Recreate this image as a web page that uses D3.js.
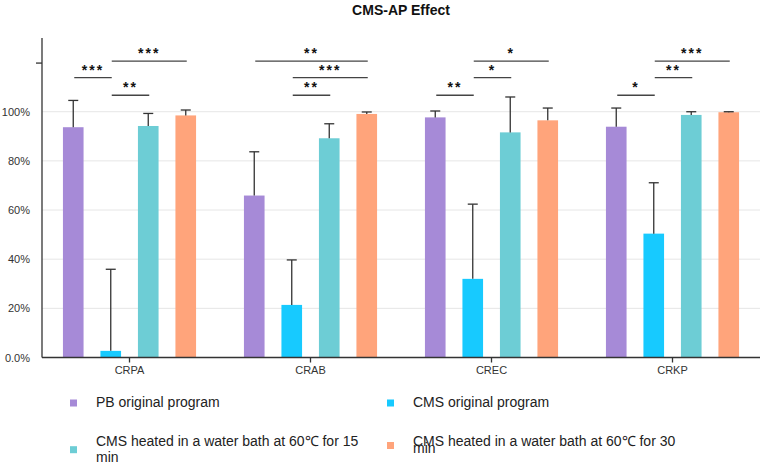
<!DOCTYPE html>
<html>
<head>
<meta charset="utf-8">
<script src="https://cdn.jsdelivr.net/npm/d3@7"></script>
<style>
    body { margin: 0; background: #fff; }
    svg { font-family: "Liberation Sans", Arial, sans-serif; display: block; }
</style>
</head>
<body>
<div class="chart"></div>
<script>
// Data
const categories = ['CRPA', 'CRAB', 'CREC', 'CRKP'];
const seriesNames = [
    'PB original program',
    'CMS original program',
    'CMS heated in a water bath at 60\u2103 for 15 min',
    'CMS heated in a water bath at 60\u2103 for 30 min'
];
// mean values (%) per series, in category order
const pbOriginal = [93.7, 65.9, 97.7, 93.9];
const cmsOriginal = [2.7, 21.4, 32.0, 50.4];
const cmsHeated15 = [94.2, 89.2, 91.6, 98.7];
const cmsHeated30 = [98.5, 99.1, 96.5, 99.8];
// upper error (%) per series
const pbErr = [10.9, 17.8, 2.6, 7.6];
const cmsErr = [33.2, 18.3, 30.4, 20.7];
const heated15Err = [5.1, 5.9, 14.4, 1.3];
const heated30Err = [2.2, 0.8, 5.0, 0.2];
// significance brackets: category, from series, to series, level (%), label
const sigCategory = ['CRPA', 'CRPA', 'CRPA', 'CRAB', 'CRAB', 'CRAB', 'CREC', 'CREC', 'CREC', 'CRKP', 'CRKP', 'CRKP'];
const sigFrom = [0, 1, 1, 0, 1, 1, 0, 1, 1, 0, 1, 1];
const sigTo = [1, 2, 3, 3, 3, 2, 1, 2, 3, 1, 2, 3];
const sigLevel = [113.9, 106.7, 120.6, 120.6, 113.9, 106.7, 106.7, 113.9, 120.6, 106.7, 113.9, 120.6];
const sigLabel = ['***', '**', '***', '**', '***', '**', '**', '*', '*', '*', '**', '***'];
const yTicks = [0, 20, 40, 60, 80, 100, 120];

const colors = ['#a68ad7', '#17caff', '#6dcdd5', '#ffa47b'];

const means = [pbOriginal, cmsOriginal, cmsHeated15, cmsHeated30];
const errs = [pbErr, cmsErr, heated15Err, heated30Err];

const barData = [];
means.forEach((arr, s) => {
    arr.forEach((v, c) => {
        barData.push({cat: categories[c], series: s, value: v, err: errs[s][c]});
    });
});

const sigData = sigCategory.map((c, i) => ({
    cat: c, from: sigFrom[i], to: sigTo[i], level: sigLevel[i], label: sigLabel[i]
}));

// Layout
const W = 765, H = 465;
const axisX = 42, plotRight = 760;

const svg = d3.select('.chart')
    .append('svg')
    .attr('width', W)
    .attr('height', H);

// Scales
const x0 = d3.scaleBand()
    .domain(categories)
    .range([39, 763]);

const x1 = d3.scaleBand()
    .domain(d3.range(seriesNames.length))
    .range([-75, 75])
    .paddingInner(0.45)
    .paddingOuter(0.225);

const y = d3.scaleLinear()
    .domain([0, 130])
    .range([357.5, 38]);

const barCenter = (cat, s) => x0(cat) + x0.bandwidth() / 2 + x1(s) + x1.bandwidth() / 2;

// Title
svg.append('text')
    .attr('x', 401)
    .attr('y', 14.5)
    .attr('text-anchor', 'middle')
    .style('font-size', '14px')
    .style('font-weight', 'bold')
    .style('fill', '#111')
    .text('CMS-AP Effect');

// Grid lines
svg.append('g')
    .selectAll('line')
    .data(yTicks.filter(d => d > 0 && d <= 100))
    .enter()
    .append('line')
    .attr('x1', axisX)
    .attr('x2', plotRight)
    .attr('y1', d => y(d))
    .attr('y2', d => y(d))
    .style('stroke', '#e6e6e6')
    .style('stroke-width', 1);

// Bars
svg.append('g')
    .selectAll('.bar')
    .data(barData)
    .enter()
    .append('rect')
    .attr('class', 'bar')
    .attr('x', d => x0(d.cat) + x0.bandwidth() / 2 + x1(d.series))
    .attr('y', d => y(d.value))
    .attr('width', x1.bandwidth())
    .attr('height', d => y(0) - y(d.value))
    .style('fill', d => colors[d.series]);

// Error bars
const errG = svg.append('g')
    .style('stroke', '#333')
    .style('stroke-width', 1.3);

errG.selectAll('.err')
    .data(barData)
    .enter()
    .append('line')
    .attr('x1', d => barCenter(d.cat, d.series))
    .attr('x2', d => barCenter(d.cat, d.series))
    .attr('y1', d => y(d.value))
    .attr('y2', d => y(d.value + d.err));

errG.selectAll('.cap')
    .data(barData)
    .enter()
    .append('line')
    .attr('x1', d => barCenter(d.cat, d.series) - 5)
    .attr('x2', d => barCenter(d.cat, d.series) + 5)
    .attr('y1', d => y(d.value + d.err))
    .attr('y2', d => y(d.value + d.err));

// Axes
const yAxis = d3.axisLeft(y)
    .tickValues(yTicks)
    .tickSize(6)
    .tickPadding(6)
    .tickFormat(d => d === 0 ? '0.0%' : d === 120 ? '' : d + '%');

const yAxisDraw = svg.append('g')
    .attr('transform', `translate(${axisX},0)`)
    .call(yAxis);

yAxisDraw.select('.domain')
    .attr('d', `M0,${y(0)}V${y(130)}`)
    .style('stroke', '#333')
    .style('stroke-width', 1.3);
yAxisDraw.selectAll('.tick line')
    .style('stroke', '#333')
    .style('stroke-width', 1.3)
    .style('opacity', d => d === 120 ? 1 : 0);
yAxisDraw.selectAll('.tick text')
    .style('font-size', '11px')
    .style('fill', '#333')
    .attr('x', -12);

const xAxis = d3.axisBottom(x0)
    .tickSize(5)
    .tickSizeOuter(0)
    .tickPadding(4);

const xAxisDraw = svg.append('g')
    .attr('transform', `translate(0,${y(0)})`)
    .call(xAxis);

xAxisDraw.select('.domain')
    .attr('d', `M${axisX},0H${plotRight}`)
    .style('stroke', '#333')
    .style('stroke-width', 1.3);
xAxisDraw.selectAll('.tick line')
    .style('stroke', '#333')
    .style('stroke-width', 1.3);
xAxisDraw.selectAll('.tick text')
    .style('font-size', '11px')
    .style('fill', '#333');

// Significance brackets
const sigG = svg.append('g');

sigG.selectAll('.sig-line')
    .data(sigData)
    .enter()
    .append('line')
    .attr('x1', d => barCenter(d.cat, d.from) + 1)
    .attr('x2', d => barCenter(d.cat, d.to) + 1)
    .attr('y1', d => y(d.level))
    .attr('y2', d => y(d.level))
    .style('stroke', '#444')
    .style('stroke-width', 1.3);

sigG.selectAll('.sig-text')
    .data(sigData)
    .enter()
    .append('text')
    .attr('x', d => (barCenter(d.cat, d.from) + barCenter(d.cat, d.to)) / 2 + 1)
    .attr('y', d => y(d.level) - 3)
    .attr('text-anchor', 'middle')
    .style('font-size', '14px')
    .style('font-weight', 'bold')
    .style('letter-spacing', '2px')
    .style('fill', '#111')
    .text(d => d.label);

// Legend
const legendX = [70, 387];
const legendY = [407, 407, 445.7, 445.7];
const lineGap = [16, 16, 16, 7.6];
const wrapWidth = 275;

seriesNames.forEach((name, i) => {
    const col = i % 2;
    const g = svg.append('g');
    const text = g.append('text')
        .attr('x', legendX[col] + 26)
        .attr('y', legendY[i])
        .style('font-size', '14px')
        .style('fill', '#222');

    // simple word wrap
    const words = name.split(' ');
    let line = [];
    let tspan = text.append('tspan').attr('x', legendX[col] + 26).attr('dy', 0);
    let lines = 1;
    words.forEach(w => {
        line.push(w);
        tspan.text(line.join(' '));
        if (tspan.node().getComputedTextLength() > wrapWidth && line.length > 1) {
            line.pop();
            tspan.text(line.join(' '));
            line = [w];
            tspan = text.append('tspan')
                .attr('x', legendX[col] + 26)
                .attr('dy', lineGap[i])
                .text(w);
            lines++;
        }
    });

    const cy = legendY[i] - 4 + (lines - 1) * lineGap[i] / 2;
    g.append('rect')
        .attr('x', legendX[col])
        .attr('y', cy - 3.5)
        .attr('width', 7)
        .attr('height', 7)
        .style('fill', colors[i]);
});
</script>
</body>
</html>
